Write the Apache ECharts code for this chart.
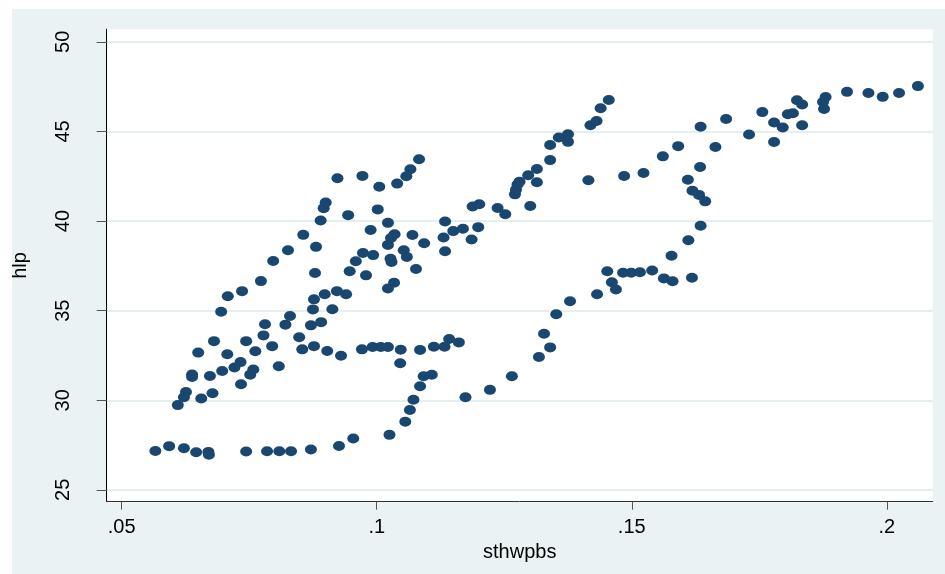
<!DOCTYPE html>
<html>
<head>
<meta charset="utf-8">
<script src="https://cdn.jsdelivr.net/npm/echarts@6/dist/echarts.min.js"></script>
<style>
  html, body { margin: 0; padding: 0; background: #fff; }
  #wrap { position: absolute; left: 12px; top: 9px; width: 933px; height: 565px; background: #eaf2f3; }
  #chart { width: 933px; height: 565px; }
</style>
</head>
<body>
<div id="wrap"><div id="chart"></div></div>
<script>
// sthwpbs (x) and hlp (y)
var sthwpbs = [
  0.0566, 0.0593, 0.0622, 0.0646, 0.0670, 0.0671, 0.0744, 0.0785, 0.0809, 0.0832,
  0.0871, 0.0926, 0.0954, 0.1025, 0.1056, 0.1065, 0.1072, 0.1085, 0.1092, 0.1108,
  0.1174, 0.1222, 0.1265, 0.1318, 0.1340, 0.1328, 0.1352, 0.1379, 0.1432, 0.1452,
  0.1461, 0.1469, 0.1483, 0.1499, 0.1516, 0.1540, 0.1563, 0.1580, 0.1618, 0.1578,
  0.1611, 0.1635, 0.1644, 0.1632, 0.1619, 0.1610, 0.1634, 0.1635, 0.1664, 0.1685,
  0.1591, 0.1561, 0.1523, 0.1485, 0.1415, 0.1730, 0.1756, 0.1779, 0.1779, 0.1796,
  0.1806, 0.1816, 0.1824, 0.1834, 0.1834, 0.1877, 0.1875, 0.1880, 0.1922, 0.1964,
  0.1992, 0.2024, 0.2061,
  0.1134, 0.1131, 0.1134, 0.1150, 0.1169, 0.1186, 0.1199, 0.1188, 0.1201, 0.1237,
  0.1252, 0.1271, 0.1273, 0.1276, 0.1280, 0.1297, 0.1314, 0.1314, 0.1301, 0.1340,
  0.1340, 0.1357, 0.1375, 0.1375, 0.1419, 0.1431, 0.1439, 0.1455,
  0.0972, 0.0923, 0.1005, 0.1040, 0.1058, 0.1066, 0.1083, 0.0900, 0.0896, 0.0890,
  0.0944, 0.1002, 0.1022, 0.0988, 0.1035, 0.1028, 0.1070, 0.1022, 0.1093, 0.1053,
  0.0973, 0.0993, 0.1027, 0.1029, 0.1059, 0.1077, 0.0959, 0.0947, 0.0979, 0.1034,
  0.1022, 0.0922, 0.0940, 0.0898, 0.0913, 0.0877, 0.0875, 0.0891, 0.0871, 0.0879,
  0.0881, 0.0856,
  0.0610, 0.0622, 0.0626, 0.0638, 0.0638, 0.0650, 0.0656, 0.0678, 0.0673, 0.0681,
  0.0695, 0.0697, 0.0707, 0.0708, 0.0721, 0.0733, 0.0734, 0.0736, 0.0744, 0.0752,
  0.0758, 0.0762, 0.0773, 0.0778, 0.0781, 0.0795, 0.0797, 0.0808, 0.0821, 0.0826,
  0.0830, 0.0848, 0.0854,
  0.0877, 0.0903, 0.0930, 0.0971, 0.0992, 0.1008, 0.1022, 0.1047, 0.1046, 0.1085,
  0.1112, 0.1133, 0.1142, 0.1161
];
var hlp = [
  27.17, 27.44, 27.32, 27.10, 27.12, 26.96, 27.14, 27.16, 27.16, 27.16,
  27.25, 27.45, 27.87, 28.07, 28.80, 29.46, 30.03, 30.78, 31.34, 31.42,
  30.17, 30.58, 31.34, 32.41, 32.95, 33.71, 34.80, 35.53, 35.92, 37.20,
  36.59, 36.18, 37.12, 37.12, 37.14, 37.24, 36.80, 36.64, 36.84, 38.06,
  38.93, 39.74, 41.10, 41.46, 41.69, 42.30, 43.02, 45.26, 44.13, 45.69,
  44.18, 43.61, 42.68, 42.51, 42.28, 44.83, 46.08, 45.50, 44.41, 45.22,
  45.96, 46.02, 46.74, 46.50, 45.35, 46.25, 46.64, 46.92, 47.21, 47.15,
  46.93, 47.15, 47.53,
  38.32, 39.08, 39.98, 39.44, 39.57, 38.97, 39.66, 40.81, 40.94, 40.73,
  40.38, 41.49, 41.75, 42.04, 42.20, 42.56, 42.90, 42.17, 40.84, 43.40,
  44.24, 44.66, 44.84, 44.42, 45.35, 45.58, 46.29, 46.75,
  42.52, 42.39, 41.91, 42.09, 42.50, 42.89, 43.45, 41.04, 40.72, 40.03,
  40.33, 40.65, 39.90, 39.50, 39.26, 39.05, 39.22, 38.67, 38.76, 38.37,
  38.22, 38.10, 37.90, 37.72, 38.00, 37.32, 37.76, 37.20, 36.97, 36.56,
  36.24, 36.09, 35.92, 35.92, 35.08, 35.63, 35.07, 34.36, 34.18, 37.10,
  38.56, 39.23,
  29.73, 30.17, 30.46, 31.44, 31.30, 32.66, 30.10, 30.39, 31.35, 33.30,
  34.94, 31.63, 32.57, 35.80, 31.83, 32.13, 30.89, 36.09, 33.30, 31.43,
  31.72, 32.74, 36.65, 33.62, 34.24, 33.02, 37.77, 31.90, 34.22, 38.37,
  34.70, 33.52, 32.84,
  33.02, 32.75, 32.48, 32.84, 32.97, 32.97, 32.97, 32.82, 32.07, 32.81,
  32.99, 32.99, 33.42, 33.23
];
var xTicks = [0.05, 0.1, 0.15, 0.2];
var yTicks = [25, 30, 35, 40, 45, 50];

var points = sthwpbs.map(function (x, i) { return [x, hlp[i]]; });

var chart = echarts.init(document.getElementById('chart'));
var font = 'Liberation Sans, Arial, sans-serif';

chart.setOption({
  animation: false,
  grid: {
    left: 94.7, right: 12.3, top: 20.3, bottom: 72.3,
    outerBoundsMode: 'none', containLabel: false,
    show: true, backgroundColor: '#fff', borderWidth: 0
  },
  xAxis: {
    type: 'value',
    min: 0.04706, max: 0.2090,
    name: 'sthwpbs', nameLocation: 'middle', nameGap: 34,
    nameTextStyle: { fontFamily: font, fontSize: 20, color: '#000' },
    axisLine: { show: true, lineStyle: { color: '#333', width: 1 } },
    axisTick: { show: true, length: 8, customValues: xTicks, lineStyle: { color: '#555' } },
    axisLabel: {
      customValues: xTicks, margin: 16,
      fontFamily: font, fontSize: 20, color: '#000',
      formatter: function (v) { return String(v).replace(/^0/, ''); }
    },
    splitLine: { show: false }
  },
  yAxis: {
    type: 'value',
    min: 24.34, max: 50.70,
    name: 'hlp', nameLocation: 'middle', nameGap: 76,
    nameTextStyle: { fontFamily: font, fontSize: 20, color: '#000' },
    axisLine: { show: true, lineStyle: { color: '#000', width: 1 } },
    axisTick: { show: true, length: 10, customValues: yTicks, lineStyle: { color: '#555' } },
    axisLabel: {
      customValues: yTicks, rotate: 90, margin: 33,
      fontFamily: font, fontSize: 20, color: '#000'
    },
    splitLine: { show: true, lineStyle: { color: '#e6eef0', width: 2 } }
  },
  series: [{
    type: 'scatter',
    data: points,
    symbol: 'circle',
    symbolSize: [12, 10],
    itemStyle: { color: '#1a476f', opacity: 1 }
  }]
});
</script>
</body>
</html>
